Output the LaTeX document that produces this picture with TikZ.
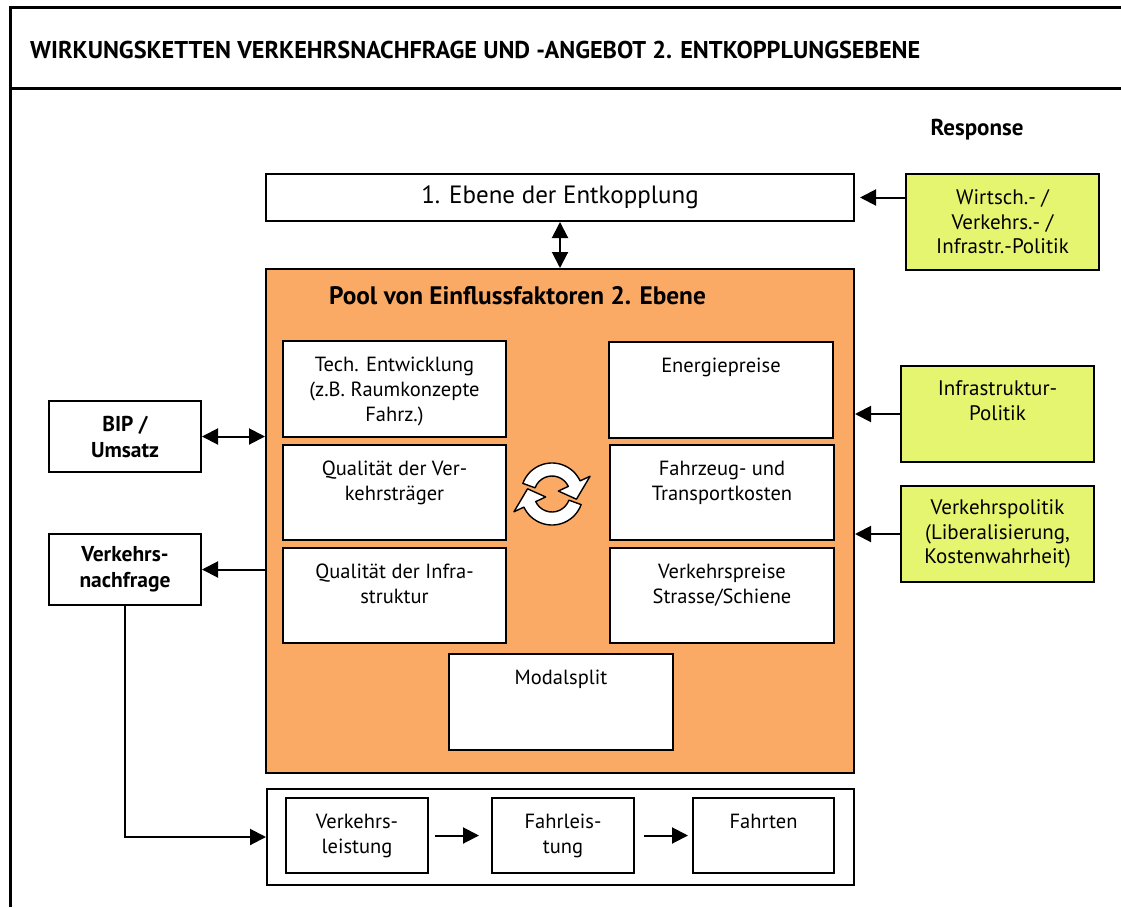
\documentclass[tikz,border=0pt]{standalone}
\usepackage{fontspec}
\setmainfont{PT Sans}
\usetikzlibrary{arrows.meta}
\definecolor{poolorange}{RGB}{251,170,102}
\definecolor{politikgelb}{RGB}{230,245,112}
\newcommand{\obentext}[3]{\parbox[c][#2][t]{#1}{\centering\vspace*{12.5pt}\strut#3}}

\begin{document}
\begin{tikzpicture}[x=1pt,y=-1pt,
  kasten/.style={draw,line width=2pt,fill=white,inner sep=0pt,anchor=north west,font=\fontsize{20.5}{25}\selectfont},
  gelb/.style={kasten,fill=politikgelb,align=center,minimum width=193pt,minimum height=96pt,font=\fontsize{21}{24.5}\selectfont},
  fett/.style={kasten,align=center,font=\fontsize{21.5}{26}\selectfont\bfseries,minimum width=152pt,minimum height=71pt},
  pfeil/.style={line width=2pt,-{Triangle[length=16pt,width=16pt]}},
  doppelpfeil/.style={line width=2pt,{Triangle[length=16pt,width=16pt]}-{Triangle[length=16pt,width=16pt]}}]

\useasboundingbox (0,0) rectangle (1121,907);

% Rahmen und Titel
\draw[line width=3pt] (10,907) -- (10,8) -- (1121,8);
\draw[line width=3pt] (10,88) -- (1121,88);
\node[anchor=west,inner sep=0pt,font=\fontsize{24.3}{28}\selectfont\bfseries] (titel) at (30,50) {WIRKUNGSKETTEN VERKEHRSNACHFRAGE UND -ANGEBOT 2. ENTKOPPLUNGSEBENE};
\node[font=\fontsize{23}{27}\selectfont\bfseries] (response) at (977,130) {Response};

% Entkopplung und Pool
\node[kasten,minimum width=588pt,minimum height=47pt,font=\fontsize{25}{30}\selectfont] (ebene) at (265,173) {1. Ebene der Entkopplung};
\node[kasten,fill=poolorange,minimum width=588pt,minimum height=504pt] (pool) at (265,268) {};
\node[anchor=base west,inner sep=0pt,font=\fontsize{25.3}{30}\selectfont\bfseries] (pooltitel) at (329,304) {Pool von Einflussfaktoren 2. Ebene};

\node[kasten] (tech) at (282,340) {\obentext{223pt}{96pt}{Tech. Entwicklung\\(z.B. Raumkonzepte\\Fahrz.)}};
\node[kasten] (qvt) at (282,444) {\obentext{223pt}{95pt}{Qualität der Ver-\\kehrsträger}};
\node[kasten] (qinfra) at (282,547) {\obentext{223pt}{95pt}{Qualität der Infra-\\struktur}};
\node[kasten] (energie) at (608,341) {\obentext{224pt}{96pt}{Energiepreise}};
\node[kasten] (fahrzeug) at (609,444) {\obentext{224pt}{95pt}{Fahrzeug- und\\Transportkosten}};
\node[kasten] (vpreise) at (609,547) {\obentext{224pt}{95pt}{Verkehrspreise\\Strasse/Schiene}};
\node[kasten] (modal) at (448,653) {\obentext{224pt}{96pt}{Modalsplit}};

% Kreislauf-Symbol
\begin{scope}[shift={(552,494)},yscale=-1]
  \foreach \dreh in {0,180}
    \draw[rotate=\dreh,fill=white,line width=1.4pt,line join=round]
      (160:18) -- (160:31) arc[start angle=160,end angle=25,radius=31] -- (25:42) -- (-12:25)
      -- (25:7) -- (25:18) arc[start angle=25,end angle=160,radius=18] -- cycle;
\end{scope}

% Politik
\node[gelb] (wpol) at (905,173) {Wirtsch.\kern0pt- /\\Verkehrs.\kern0pt- /\\Infrastr.\kern0pt-Politik};
\node[kasten,fill=politikgelb,font=\fontsize{21}{24.5}\selectfont] (ipol) at (900,365) {\obentext{193pt}{96pt}{Infrastruktur-\\Politik}};
\node[gelb] (vpol) at (900,485) {Verkehrspolitik\\(Liberalisierung,\\Kostenwahrheit)};

% links
\node[fett] (bip) at (48,400) {BIP /\\Umsatz};
\node[fett] (nachfrage) at (48,533) {Verkehrs-\\nachfrage};

% Kette unten
\node[kasten,minimum width=587pt,minimum height=96pt] (kette) at (266,788) {};
\node[kasten] (vleistung) at (285,797) {\obentext{142pt}{75pt}{Verkehrs-\\leistung}};
\node[kasten] (fleistung) at (491,797) {\obentext{142pt}{75pt}{Fahrleis-\\tung}};
\node[kasten] (fahrten) at (692,797) {\obentext{141pt}{75pt}{Fahrten}};

% Pfeile
\draw[pfeil,shorten >=5pt] (wpol.west |- ebene.east) -- (ebene.east);
\draw[doppelpfeil] (ebene.south) -- (pool.north);
\draw[pfeil] (ipol.west) -- (pool.east |- ipol.west);
\draw[pfeil] (vpol.west) -- (pool.east |- vpol.west);
\draw[doppelpfeil] (bip.east) -- (pool.west |- bip.east);
\draw[pfeil] (pool.west |- nachfrage.east) -- (nachfrage.east);
\draw[pfeil] (nachfrage.south) |- (kette.west);
\draw[pfeil,shorten <=6pt,shorten >=12pt] (vleistung) -- (fleistung);
\draw[pfeil,shorten <=9pt,shorten >=4pt] (fleistung) -- (fahrten);
\end{tikzpicture}
\end{document}
